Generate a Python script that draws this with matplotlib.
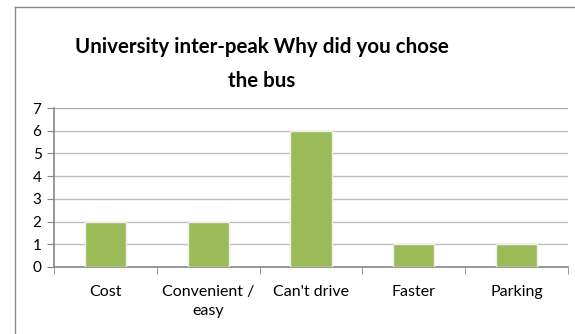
import numpy as np
import matplotlib.pyplot as plt
from matplotlib.lines import Line2D

# ==== Data ====
kategori = ["Cost", "Convenient /\neasy", "Can't drive", "Faster", "Parking"]
jumlah = [2, 2, 6, 1, 1]
judul = "University inter-peak Why did you chose\nthe bus"

plt.rcParams['font.family'] = ['Lato', 'DejaVu Sans']

fig = plt.figure(figsize=(5.75, 3.34), dpi=100)
ax = fig.add_axes([54/575, 67/334, 514/575, 159/334])

x = np.arange(len(kategori))
ax.bar(x, jumlah, width=0.4, color='#9BBB59', edgecolor='#eeeeee', linewidth=1, zorder=3)

ax.set_xlim(-0.5, len(kategori) - 0.5)
ax.set_ylim(0, 7)
ax.set_yticks(range(0, 8))
ax.yaxis.grid(True, color='#bfbfbf', linewidth=1)
ax.set_axisbelow(True)

ax.set_xticks(x)
ax.set_xticklabels(kategori, fontsize=11.5, linespacing=1.45)
ax.set_xticks(np.arange(-0.5, len(kategori)), minor=True)
ax.tick_params(axis='x', which='major', length=0, pad=13)
ax.tick_params(axis='x', which='minor', length=5, color='#868686', direction='out')
ax.tick_params(axis='y', length=5, color='#868686', labelsize=11, pad=4)

for s in ['top', 'right']:
    ax.spines[s].set_visible(False)
for s in ['left', 'bottom']:
    ax.spines[s].set_color('#868686')
    ax.spines[s].set_linewidth(1.2)

# garis atas (7) sedikit lebih gelap
ax.axhline(7, color='#a6a6a6', linewidth=1.2, zorder=2)

fig.text(262/575, 1 - 64/334, judul, ha='center', va='center', fontsize=14.8,
         fontweight='bold', linespacing=1.85)

# bingkai chart
fig.add_artist(Line2D([15/575, 15/575], [0, 1 - 7/334], color='#8c8c8c', linewidth=1))
fig.add_artist(Line2D([15/575, 1], [1 - 7/334, 1 - 7/334], color='#8c8c8c', linewidth=1))

fig.savefig("out.png", dpi=100)
